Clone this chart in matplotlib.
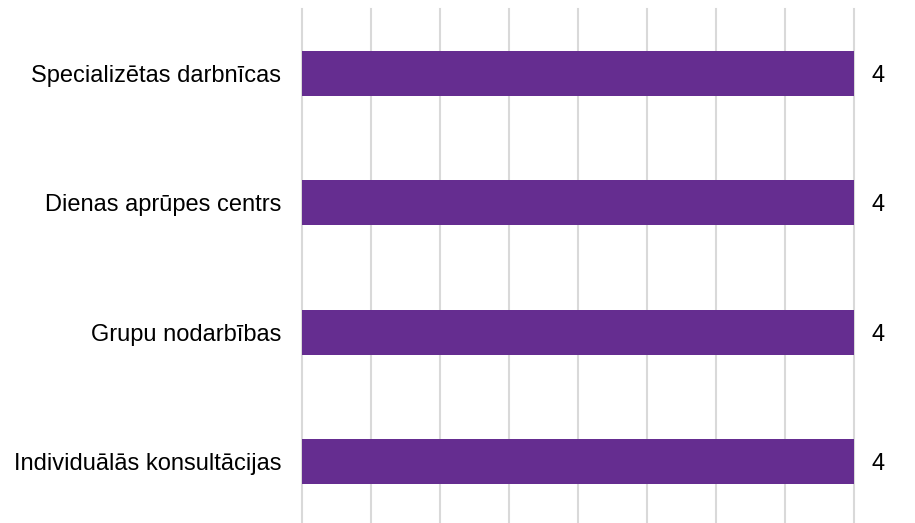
import matplotlib.pyplot as plt

plt.rcParams['font.family'] = ['Liberation Sans', 'DejaVu Sans']

categories = ['Specializētas darbnīcas', 'Dienas aprūpes centrs',
              'Grupu nodarbības', 'Individuālās konsultācijas']
values = [4, 4, 4, 4]

fig = plt.figure(figsize=(9.15, 5.23), dpi=100)
ax = fig.add_axes([302 / 915, -3 / 523, 552 / 915, 517 / 523])

ypos = list(range(len(categories)))
ax.barh(ypos, values, height=0.35, color='#652D90', zorder=3)
ax.set_ylim(3.5, -0.5)
ax.set_xlim(0, 4)
ax.set_xticks([i * 0.5 for i in range(9)])
ax.set_xticklabels([])
ax.grid(axis='x', color='#d9d9d9', linewidth=1.5, zorder=0)
for gl in ax.get_xgridlines():
    gl.set_clip_on(False)
ax.set_yticks(ypos)
ax.set_yticklabels(categories, fontsize=17, color='#000000',
                   va='center_baseline')
ax.tick_params(axis='both', length=0)
ax.tick_params(axis='y', pad=15)
for s in ax.spines.values():
    s.set_visible(False)

# value labels to the right of each bar
for y, v in zip(ypos, values):
    ax.text(v + 0.13, y, str(v), va='center_baseline', ha='left', fontsize=17)

fig.savefig('out.png', dpi=100)
